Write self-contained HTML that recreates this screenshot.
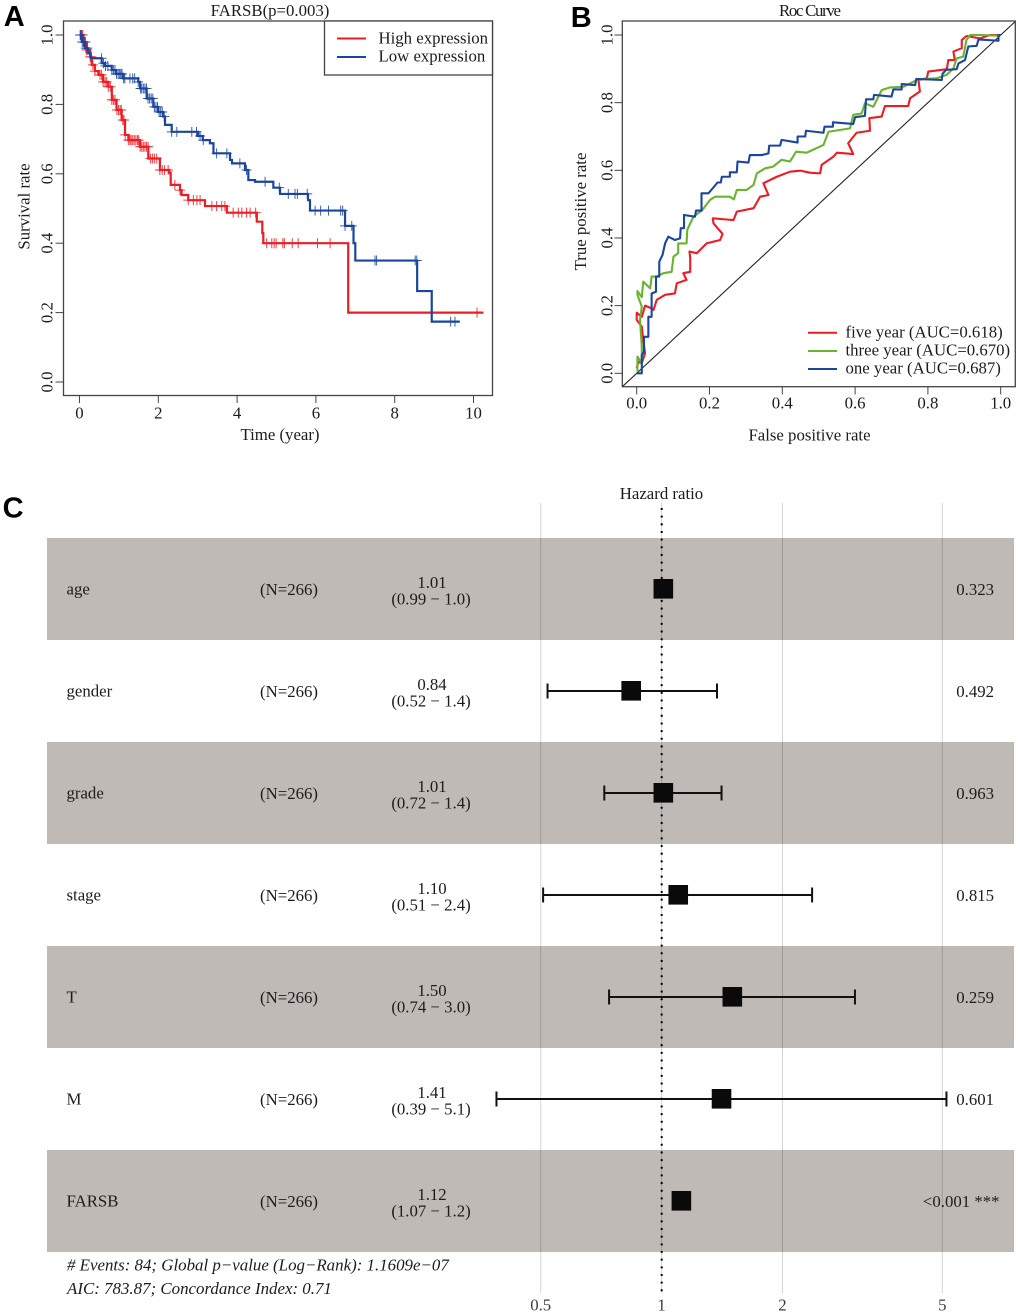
<!DOCTYPE html>
<html lang="en">
<head>
<meta charset="utf-8">
<title>FARSB survival, ROC and hazard ratio panels</title>
<style>
html,body{margin:0;padding:0;background:#fff;}
svg{display:block;}
text{font-family:"Liberation Serif","Times New Roman",serif;font-size:16.8px;fill:#1c1c1c;}
.panel{font-family:"Liberation Sans",Arial,sans-serif;font-weight:bold;font-size:29px;fill:#000;}
.grey{fill:#3c3c3c;}
</style>
</head>
<body>
<svg id="figure" xmlns="http://www.w3.org/2000/svg" width="1020" height="1316" viewBox="0 0 1020 1316">
  <text class="panel" x="3.8" y="26">A</text>
  <text class="panel" x="570.8" y="27">B</text>
  <text class="panel" x="2.6" y="517.5">C</text>

  <g id="km">
    <text x="270" y="16" text-anchor="middle">FARSB(p=0.003)</text>
    <g id="km-axes"></g>
    <g id="km-series"></g>
    <rect x="63.5" y="21" width="429" height="374.5" fill="none" stroke="#444" stroke-width="1.3"/>
    <text x="280" y="440" text-anchor="middle">Time (year)</text>
    <text transform="translate(29.5 206.5) rotate(-90)" text-anchor="middle">Survival rate</text>
    <g>
      <rect x="324.5" y="21" width="168" height="54" fill="#fff" stroke="#444" stroke-width="1.3"/>
      <line x1="337" x2="366" y1="38.5" y2="38.5" stroke="#ed1c24" stroke-width="2"/>
      <line x1="337" x2="366" y1="57" y2="57" stroke="#1b459f" stroke-width="2"/>
      <text x="378.5" y="43.5">High expression</text>
      <text x="378.5" y="61.7">Low expression</text>
    </g>
  </g>

  <g id="roc">
    <text x="810" y="16" text-anchor="middle" textLength="62" lengthAdjust="spacing">Roc Curve</text>
    <g id="roc-axes"></g>
    <g id="roc-series"></g>
    <rect x="622.3" y="21" width="393" height="365.7" fill="none" stroke="#444" stroke-width="1.3"/>
    <text x="809.5" y="440.7" text-anchor="middle">False positive rate</text>
    <text transform="translate(586 211.5) rotate(-90)" text-anchor="middle">True positive rate</text>
    <g>
      <line x1="808" x2="837" y1="332.7" y2="332.7" stroke="#ed1c24" stroke-width="2"/>
      <line x1="808" x2="837" y1="351" y2="351" stroke="#6ab42d" stroke-width="2"/>
      <line x1="808" x2="837" y1="369" y2="369" stroke="#1b459f" stroke-width="2"/>
      <text x="845.5" y="337.5">five year (AUC=0.618)</text>
      <text x="845.5" y="355.5">three year (AUC=0.670)</text>
      <text x="845.5" y="373.5">one year (AUC=0.687)</text>
    </g>
  </g>

  <g id="forest">
    <text x="661.5" y="499" text-anchor="middle">Hazard ratio</text>
    <g id="forest-bands"></g>
    <g id="forest-grid"></g>
    <line x1="661.7" x2="661.7" y1="509" y2="1292" stroke="#000" stroke-width="2.3" stroke-linecap="round" stroke-dasharray="0 7.66"/>
    <g id="forest-rows"></g>
    <text x="67" y="1270.5" font-style="italic" style="font-size:16.9px"># Events: 84; Global p−value (Log−Rank): 1.1609e−07</text>
    <text x="67" y="1294" font-style="italic" style="font-size:16.9px">AIC: 783.87; Concordance Index: 0.71</text>
  </g>
</svg>

<script>
// ---- Survival chart data (time in years, survival probability) ----
const kmXTicks = [0, 2, 4, 6, 8, 10];
const kmYTicks = [0, 0.2, 0.4, 0.6, 0.8, 1];
const highTimes = [0, .1, .18, .27, .31, .39, .48, .6, .73, .82, .94, 1.07, 1.155, 1.24, 1.535, 1.746, 2.04, 2.28, 2.315, 2.55, 2.59, 2.76, 3.185, 3.74, 4.5, 4.64, 4.665, 6.82];
const highSurvival = [1, .98, .957, .937, .914, .896, .885, .865, .851, .813, .784, .755, .712, .697, .678, .644, .611, .603, .568, .553, .539, .524, .507, .488, .462, .429, .4, .2];
const highEnd = 10.25;
const highCensored = [.02, .04, .06, .08, .1, .12, .15, .18, .27, .3, .34, .39, .52, .56, .6, .65, .69, .73, .78, .82, .86, .9, .95, .99, 1.03, 1.06, 1.1, 1.13, 1.16, 1.24, 1.28, 1.31, 1.35, 1.39, 1.43, 1.47, 1.5, 1.54, 1.58, 1.62, 1.66, 1.7, 1.74, 1.8, 1.85, 1.9, 1.96, 2.04, 2.1, 2.16, 2.25, 2.42, 2.55, 2.76, 2.89, 2.98, 3.06, 3.36, 3.48, 3.61, 3.69, 3.9, 4.03, 4.12, 4.24, 4.33, 4.47, 4.75, 4.88, 4.94, 4.99, 5.16, 5.2, 5.4, 5.55, 6.04, 6.36, 10.09];
const lowTimes = [0, .056, .14, .22, .284, .563, .647, .817, .926, 1.11, 1.49, 1.535, 1.705, 1.873, 1.99, 2.127, 2.17, 2.34, 3.01, 3.13, 3.31, 3.4, 3.82, 3.87, 4.2, 4.285, 4.455, 4.92, 5.09, 5.8, 5.85, 6.74, 6.955, 7, 8.57, 8.94];
const lowSurvival = [1, .98, .962, .947, .933, .919, .911, .899, .888, .875, .865, .846, .817, .793, .778, .765, .741, .721, .709, .697, .688, .659, .64, .63, .611, .582, .577, .56, .542, .524, .494, .45, .4, .35, .262, .174];
const lowEnd = 9.65;
const lowCensored = [.02, .04, .07, .1, .13, .16, .2, .56, .61, .66, .72, .82, .86, .9, .94, .98, 1.02, 1.05, 1.08, 1.12, 1.15, 1.28, 1.35, 1.4, 1.49, 1.55, 1.58, 1.62, 1.66, 1.7, 1.74, 1.78, 1.82, 1.86, 1.9, 1.94, 1.98, 2.02, 2.06, 2.1, 2.15, 2.34, 2.47, 2.85, 2.97, 3.06, 3.14, 3.48, 3.74, 4.07, 4.24, 4.71, 5.07, 5.3, 5.47, 5.53, 5.78, 5.98, 6.12, 6.32, 6.63, 6.68, 6.74, 6.91, 7.5, 7.54, 8.52, 8.56, 9.42, 9.53];

// ---- ROC chart data (false positive rate, true positive rate) ----
const rocTicks = [0, 0.2, 0.4, 0.6, 0.8, 1];
const fiveYearFpr = [0, .005, .014, .023, .018, .014, 0, 0, .014, .023, .041, .046, .055, .078, .105, .11, .137, .128, .147, .147, .145, .165, .192, .229, .236, .211, .209, .243, .266, .275, .321, .339, .362, .348, .385, .421, .449, .476, .504, .508, .54, .55, .595, .581, .604, .641, .639, .673, .682, .746, .751, .778, .774, .797, .801, .852, .856, .874, .87, .893, .893, .906, .943, .97, .994, 1];
const fiveYearTpr = [.015, .034, .03, .059, .099, .138, .158, .179, .167, .2, .192, .187, .217, .232, .236, .266, .276, .296, .3, .34, .36, .355, .384, .394, .412, .443, .458, .455, .453, .478, .488, .522, .527, .562, .581, .596, .599, .593, .591, .616, .64, .652, .648, .68, .711, .717, .754, .759, .79, .79, .813, .833, .867, .872, .892, .899, .926, .926, .951, .961, .985, .997, .99, 1, 1, 1];
const threeYearFpr = [.002, .002, .014, .014, .009, .014, .002, .002, .014, .018, .037, .041, .055, .073, .096, .101, .114, .114, .137, .139, .147, .156, .179, .201, .215, .229, .256, .267, .275, .302, .321, .33, .353, .375, .398, .421, .438, .467, .513, .527, .586, .595, .618, .627, .65, .673, .696, .733, .742, .774, .824, .851, .87, .879, .897, .906, .916, .948, .994, 1];
const threeYearTpr = [.005, .049, .03, .079, .158, .197, .232, .243, .225, .271, .251, .286, .286, .296, .3, .345, .355, .384, .384, .424, .443, .463, .481, .512, .522, .522, .522, .514, .542, .542, .557, .591, .606, .611, .631, .626, .655, .652, .675, .714, .724, .764, .768, .798, .788, .837, .845, .847, .852, .869, .872, .882, .901, .931, .936, .985, 1, 1, .998, 1];
const oneYearFpr = [0, .014, .014, .02, .02, .032, .032, .041, .041, .053, .053, .062, .062, .071, .078, .087, .105, .119, .121, .13, .13, .16, .163, .178, .178, .197, .209, .222, .231, .234, .256, .256, .275, .277, .307, .311, .343, .362, .364, .394, .398, .442, .442, .463, .465, .513, .516, .539, .539, .595, .6, .627, .63, .65, .652, .7, .705, .728, .728, .765, .768, .838, .84, .85, .879, .884, .902, .911, .934, .939, .994, .994, 1];
const oneYearTpr = [0, 0, .054, .064, .108, .108, .167, .167, .236, .241, .286, .286, .33, .35, .384, .404, .394, .399, .429, .429, .468, .463, .481, .481, .532, .532, .547, .564, .564, .581, .581, .594, .594, .626, .623, .645, .645, .65, .673, .673, .69, .682, .7, .7, .717, .711, .729, .729, .742, .737, .757, .761, .81, .81, .823, .818, .839, .839, .855, .852, .87, .867, .885, .897, .899, .916, .926, .966, .968, .987, .983, 1, 1];

// ---- Forest plot data ----
const covariates = ["age", "gender", "grade", "stage", "T", "M", "FARSB"];
const patientCounts = ["(N=266)", "(N=266)", "(N=266)", "(N=266)", "(N=266)", "(N=266)", "(N=266)"];
const hrLabels = ["1.01", "0.84", "1.01", "1.10", "1.50", "1.41", "1.12"];
const ciLabels = ["(0.99 − 1.0)", "(0.52 − 1.4)", "(0.72 − 1.4)", "(0.51 − 2.4)", "(0.74 − 3.0)", "(0.39 − 5.1)", "(1.07 − 1.2)"];
const pLabels = ["0.323", "0.492", "0.963", "0.815", "0.259", "0.601", "<0.001 ***"];
const hazardRatios = [1.01, 0.84, 1.01, 1.10, 1.50, 1.41, 1.12];
const ciLower = [0.99, 0.52, 0.72, 0.507, 0.74, 0.388, 1.07];
const ciUpper = [1.03, 1.374, 1.41, 2.37, 3.03, 5.12, 1.17];
const forestTicks = [0.5, 1, 2, 5];

const NS = 'http://www.w3.org/2000/svg';
const mk = (tag, parent, attrs) => {
  const node = document.createElementNS(NS, tag);
  for (const k in attrs) node.setAttribute(k, attrs[k]);
  parent.appendChild(node);
  return node;
};
const $ = id => document.getElementById(id);

// ---- Axis functions ----
const kmX = t => 79.5 + 39.4 * t;
const kmY = s => 382 - 347 * s;
const rocX = f => 636.7 + 364 * f;
const rocY = v => 373.3 - 338.3 * v;
const forestX = hr => 661.6 + 120.9 * Math.log2(hr);
const rowTop = i => 538 + 102 * i;
const rowCenter = i => rowTop(i) + 51;

// ---- Axes ----
function fmt1(v) { return v.toFixed(1); }

kmXTicks.forEach(v => {
  const tick = mk('line', $('km-axes'), {x1: kmX(v), x2: kmX(v), y1: 395.5, y2: 403, stroke: '#444', 'stroke-width': 1});
  
  
  const label = mk('text', $('km-axes'), {x: kmX(v), y: 418.5, 'text-anchor': 'middle'});
  label.textContent = String(v);
  
  
});
kmYTicks.forEach(v => {
  const tick = mk('line', $('km-axes'), {x1: 55.5, x2: 63.5, y1: kmY(v), y2: kmY(v), stroke: '#444', 'stroke-width': 1});
  
  
  const label = mk('text', $('km-axes'), {transform: `translate(52.5 ${kmY(v)}) rotate(-90)`, 'text-anchor': 'middle'});
  label.textContent = fmt1(v);
  
  
});
rocTicks.forEach(v => {
  const tick = mk('line', $('roc-axes'), {x1: rocX(v), x2: rocX(v), y1: 386.7, y2: 394.5, stroke: '#444', 'stroke-width': 1});
  
  
  const label = mk('text', $('roc-axes'), {x: rocX(v), y: 408.5, 'text-anchor': 'middle'});
  label.textContent = fmt1(v);
  
  
  const ytick = mk('line', $('roc-axes'), {x1: 614.5, x2: 622.3, y1: rocY(v), y2: rocY(v), stroke: '#444', 'stroke-width': 1});
  
  
  const ylabel = mk('text', $('roc-axes'), {transform: `translate(612.7 ${rocY(v)}) rotate(-90)`, 'text-anchor': 'middle'});
  ylabel.textContent = fmt1(v);
  
  
});

// ---- Survival curves ----
function survivalAt(times, values, t) {
  let s = values[0];
  for (let i = 0; i < times.length; i++) { if (times[i] <= t) s = values[i]; }
  return s;
}
function drawSurvival(times, values, end, censored, color, name) {
  let d = `M${kmX(times[0])} ${kmY(values[0])}`;
  for (let i = 1; i < times.length; i++) {
    d += `H${kmX(times[i])}V${kmY(values[i])}`;
  }
  d += `H${kmX(end)}`;
  const line = mk('path', $('km-series'), {d: d, fill: 'none', stroke: color, 'stroke-width': 2.2});
  
  
  censored.forEach(t => {
    const x = kmX(t), y = kmY(survivalAt(times, values, t));
    const mark = mk('path', $('km-series'), {d: `M${x - 5} ${y}H${x + 5}M${x} ${y - 5}V${y + 5}`, fill: 'none', stroke: color, 'stroke-width': 1, opacity: 0.85});
    
    
  });
}
drawSurvival(highTimes, highSurvival, highEnd, highCensored, '#ed1c24', 'high-expression');
drawSurvival(lowTimes, lowSurvival, lowEnd, lowCensored, '#1b459f', 'low-expression');

// ---- ROC curves ----
const diagonal = mk('line', $('roc-series'), {x1: rocX(-0.04), y1: rocY(-0.04), x2: rocX(1.04), y2: rocY(1.04), stroke: '#222', 'stroke-width': 1.1});


function drawRoc(fpr, tpr, color, name) {
  const pts = fpr.map((f, i) => `${rocX(f)},${rocY(tpr[i])}`).join(' ');
  const line = mk('polyline', $('roc-series'), {points: pts, fill: 'none', stroke: color, 'stroke-width': 2.1, 'stroke-linejoin': 'round'});
  
  
}
drawRoc(fiveYearFpr, fiveYearTpr, '#ed1c24', 'five-year');
drawRoc(threeYearFpr, threeYearTpr, '#6ab42d', 'three-year');
drawRoc(oneYearFpr, oneYearTpr, '#1b459f', 'one-year');

// ---- Forest plot ----
covariates.forEach((c, i) => {
  if (i % 2 === 0) {
    const band = mk('rect', $('forest-bands'), {x: 47, y: rowTop(i), width: 967, height: 102, fill: '#bfbab6'});
    
    
  }
});
forestTicks.forEach(v => {
  const grid = mk('line', $('forest-grid'), {x1: forestX(v), x2: forestX(v), y1: 503, y2: 1293, stroke: '#000', 'stroke-opacity': 0.17, 'stroke-width': 1});
  
  
  const label = mk('text', $('forest-grid'), {x: forestX(v), y: 1310.5, 'text-anchor': 'middle', class: 'grey'});
  label.textContent = String(v);
  
  
});
covariates.forEach((c, i) => {
  const cy = rowCenter(i);
  const name = mk('text', $('forest-rows'), {x: 66.5, y: cy + 5.5});
  name.textContent = c;
  
  
  const n = mk('text', $('forest-rows'), {x: 289, y: cy + 6, 'text-anchor': 'middle'});
  n.textContent = patientCounts[i];
  
  
  const hr = mk('text', $('forest-rows'), {x: 432, y: cy - 1, 'text-anchor': 'middle'});
  hr.textContent = hrLabels[i];
  
  
  const ci = mk('text', $('forest-rows'), {x: 431, y: cy + 15.7, 'text-anchor': 'middle'});
  ci.textContent = ciLabels[i];
  
  
  const p = mk('text', $('forest-rows'), {x: pLabels[i].length > 5 ? 999.5 : 994, y: cy + 6, 'text-anchor': 'end'});
  p.textContent = pLabels[i];
  
  

  const xl = forestX(ciLower[i]), xh = forestX(ciUpper[i]), ly = cy;
  const whisker = mk('path', $('forest-rows'), {d: `M${xl} ${ly}H${xh}M${xl} ${ly - 7.5}V${ly + 7.5}M${xh} ${ly - 7.5}V${ly + 7.5}`, fill: 'none', stroke: '#111', 'stroke-width': 2});
  
  
  const box = mk('rect', $('forest-rows'), {x: forestX(hazardRatios[i]) - 9.8, y: cy - 10, width: 19.6, height: 19.6, fill: '#0a0a0a'});
  
  
});
</script>
</body>
</html>
